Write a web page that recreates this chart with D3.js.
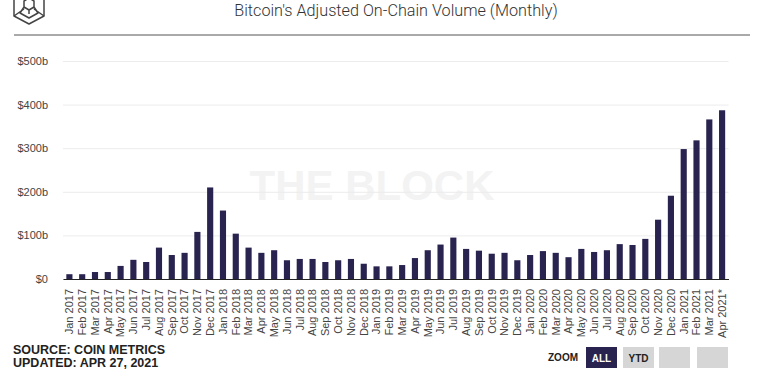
<!DOCTYPE html>
<html><head><meta charset="utf-8">
<script src="https://cdn.jsdelivr.net/npm/d3@7"></script>
<style>body{margin:0;background:#fff;} svg{display:block;}</style>
</head><body>
<svg id="chart" width="764" height="378"></svg>
<script>
const months = ["Jan 2017","Feb 2017","Mar 2017","Apr 2017","May 2017","Jun 2017","Jul 2017","Aug 2017","Sep 2017","Oct 2017","Nov 2017","Dec 2017",
"Jan 2018","Feb 2018","Mar 2018","Apr 2018","May 2018","Jun 2018","Jul 2018","Aug 2018","Sep 2018","Oct 2018","Nov 2018","Dec 2018",
"Jan 2019","Feb 2019","Mar 2019","Apr 2019","May 2019","Jun 2019","Jul 2019","Aug 2019","Sep 2019","Oct 2019","Nov 2019","Dec 2019",
"Jan 2020","Feb 2020","Mar 2020","Apr 2020","May 2020","Jun 2020","Jul 2020","Aug 2020","Sep 2020","Oct 2020","Nov 2020","Dec 2020",
"Jan 2021","Feb 2021","Mar 2021","Apr 2021*"];
// billions USD
const volume = [11,11,16,16,30,44,39,72,55,60,108,210,
157,104,72,60,66,43,46,46,39,43,46,35,
29,29,32,48,66,79,95,69,65,58,60,43,
55,64,60,50,69,62,66,80,78,92,136,191,
298,318,366,387];
const yTicks = [0,100,200,300,400,500];
const yTickLabels = ["$0","$100b","$200b","$300b","$400b","$500b"];
const titleText = "Bitcoin's Adjusted On-Chain Volume (Monthly)";
const sourceLines = ["SOURCE: COIN METRICS","UPDATED: APR 27, 2021"];
const zoomButtons = ["ALL","YTD","",""];

const svg = d3.select("#chart");
const navy = "#28234f";

// header
svg.append("text").attr("x",396).attr("y",16).attr("text-anchor","middle")
  .attr("font-family","Roboto, 'Open Sans', sans-serif").attr("font-weight",300)
  .attr("font-size",16.2).attr("fill","#333").text(titleText);
svg.append("line").attr("x1",14).attr("x2",750).attr("y1",35).attr("y2",35)
  .attr("stroke","#555").attr("stroke-width",1);
// logo (hex cube)
const logo = svg.append("g").attr("fill","none").attr("stroke","#444").attr("stroke-width",1.5).attr("stroke-linejoin","round");
logo.append("path").attr("d","M14,-4 L14,16 L29,24 L44,16 L44,-4");
logo.append("path").attr("d","M24,1 L29,-2 L34,1 L34,7 L29,10 L24,7 Z M29,10 L29,14 M14,16 L24,9 M44,16 L34,9 M24,7 L20,13 L29,18 L38,13 L34,7");

// watermark
svg.append("text").attr("x",372).attr("y",200).attr("text-anchor","middle")
  .attr("font-family","'Liberation Sans', Arial, sans-serif").attr("font-weight","bold")
  .attr("font-size",42).attr("fill","#f3f3f3").text("THE BLOCK");

const x = d3.scaleBand().domain(months).range([63,728.5]).paddingInner(0.52).paddingOuter(0.26);
const y = d3.scaleLinear().domain([0,500]).range([279,61]);

// gridlines & y labels
const yAxis = d3.axisLeft(y).tickValues(yTicks).tickSize(-(728.5-63))
  .tickFormat((d,i)=>yTickLabels[i]).tickPadding(15);
const gy = svg.append("g").attr("transform","translate(63,0)").call(yAxis);
gy.select(".domain").remove();
gy.selectAll(".tick line").attr("stroke","#ececec");
gy.selectAll(".tick text").attr("font-family","'Liberation Sans', Arial, sans-serif")
  .attr("font-size",11).attr("fill","#444");

// bars
svg.append("g").selectAll("rect").data(volume).join("rect")
  .attr("x",(d,i)=>x(months[i])).attr("width",x.bandwidth())
  .attr("y",d=>y(d)).attr("height",d=>y(0)-y(d)).attr("fill",navy);

// x axis
const xAxis = d3.axisBottom(x).tickSize(0).tickPadding(0);
const gx = svg.append("g").attr("transform","translate(0,279)").call(xAxis);
gx.select(".domain").attr("stroke","#222").attr("stroke-width",1.2);
gx.selectAll(".tick text").attr("transform","rotate(-90)")
  .attr("text-anchor","end").attr("x",-10).attr("y",0).attr("dy","0.35em")
  .attr("font-family","'Liberation Sans', Arial, sans-serif").attr("font-size",11).attr("fill","#444");

// footer
svg.append("g").selectAll("text").data(sourceLines).join("text")
  .attr("x",13).attr("y",(d,i)=>354+i*13)
  .attr("font-family","'Liberation Sans', Arial, sans-serif").attr("font-weight","bold")
  .attr("font-size",12.5).attr("fill","#222").text(d=>d);

svg.append("text").attr("x",548).attr("y",361)
  .attr("font-family","'Liberation Sans', Arial, sans-serif").attr("font-weight","bold")
  .attr("font-size",10).attr("fill","#222").text("ZOOM");
const btnX = [586,623,659,697];
const btn = svg.append("g").selectAll("g").data(zoomButtons).join("g")
  .attr("transform",(d,i)=>`translate(${btnX[i]},347)`);
btn.append("rect").attr("width",31).attr("height",21)
  .attr("fill",(d,i)=>i===0?navy:"#d6d6d6");
btn.append("text").attr("x",15.5).attr("y",15).attr("text-anchor","middle")
  .attr("font-family","'Liberation Sans', Arial, sans-serif").attr("font-weight","bold")
  .attr("font-size",10).attr("fill",(d,i)=>i===0?"#fff":"#222").text(d=>d);
</script>
</body></html>
